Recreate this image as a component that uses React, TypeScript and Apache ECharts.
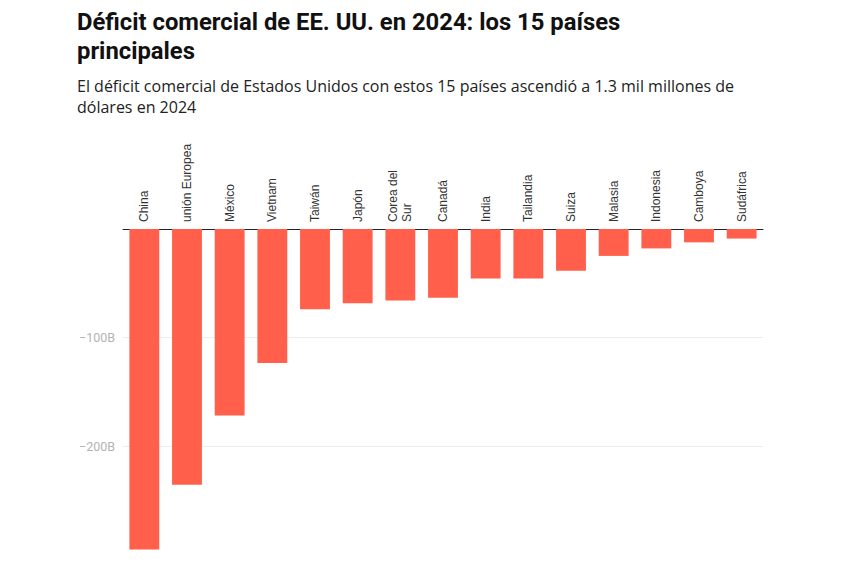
import { useEffect, useRef } from 'react';
import * as echarts from 'echarts';

const paises = [
  'China',
  'unión Europea',
  'México',
  'Vietnam',
  'Taiwán',
  'Japón',
  'Corea del\nSur',
  'Canadá',
  'India',
  'Tailandia',
  'Suiza',
  'Malasia',
  'Indonesia',
  'Camboya',
  'Sudáfrica',
];

// déficit en miles de millones de dólares
const deficit = [-295.4, -235.6, -171.8, -123.5, -73.9, -68.5, -66.0, -63.3, -45.7, -45.6, -38.5, -24.8, -17.9, -12.3, -8.8];

const titulo = 'Déficit comercial de EE. UU. en 2024: los 15 países\nprincipales';
const subtitulo =
  'El déficit comercial de Estados Unidos con estos 15 países ascendió a 1.3 mil millones de\ndólares en 2024';

export default function App() {
  const ref = useRef<HTMLDivElement>(null);

  useEffect(() => {
    document.body.style.margin = '0';
    if (!ref.current) return;
    const chart = echarts.init(ref.current, null, { renderer: 'svg' });
    chart.setOption({
      animation: false,
      backgroundColor: '#ffffff',
      graphic: [
        {
          type: 'text',
          x: 77,
          y: 7,
          style: {
            text: titulo,
            font: "bold 23.8px Roboto, sans-serif",
            lineHeight: 29.5,
            fill: '#111111',
          },
        },
        {
          type: 'text',
          x: 77,
          y: 75,
          style: {
            text: subtitulo,
            font: "16px 'Open Sans', sans-serif",
            lineHeight: 21,
            fill: '#222222',
          },
        },
      ],
      grid: { left: 123, right: 97, top: 229, bottom: 18.5 },
      xAxis: {
        type: 'category',
        position: 'top',
        data: paises,
        axisLine: { lineStyle: { color: '#222222', width: 1 } },
        axisTick: { show: false },
        axisLabel: {
          interval: 0,
          rotate: 90,
          margin: 7,
          color: '#333333',
          fontSize: 12,
          lineHeight: 14,
          fontFamily: "'Liberation Sans', Arial, sans-serif",
        },
      },
      yAxis: {
        type: 'value',
        min: -300,
        max: 0,
        interval: 100,
        axisLine: { show: false },
        axisTick: { show: false },
        splitLine: { showMinLine: false, lineStyle: { color: '#ececec' } },
        axisLabel: {
          margin: 8,
          color: '#b3b3b3',
          fontSize: 12.5,
          fontFamily: 'Roboto, sans-serif',
          formatter: (v: number) => (v === 0 || v === -300 ? '' : `−${Math.abs(v)}B`),
        },
      },
      series: [
        {
          type: 'bar',
          data: deficit,
          barWidth: '70%',
          itemStyle: { color: '#ff5f4b' },
        },
      ],
    });
    return () => chart.dispose();
  }, []);

  return <div ref={ref} style={{ width: 860, height: 573 }} />;
}
